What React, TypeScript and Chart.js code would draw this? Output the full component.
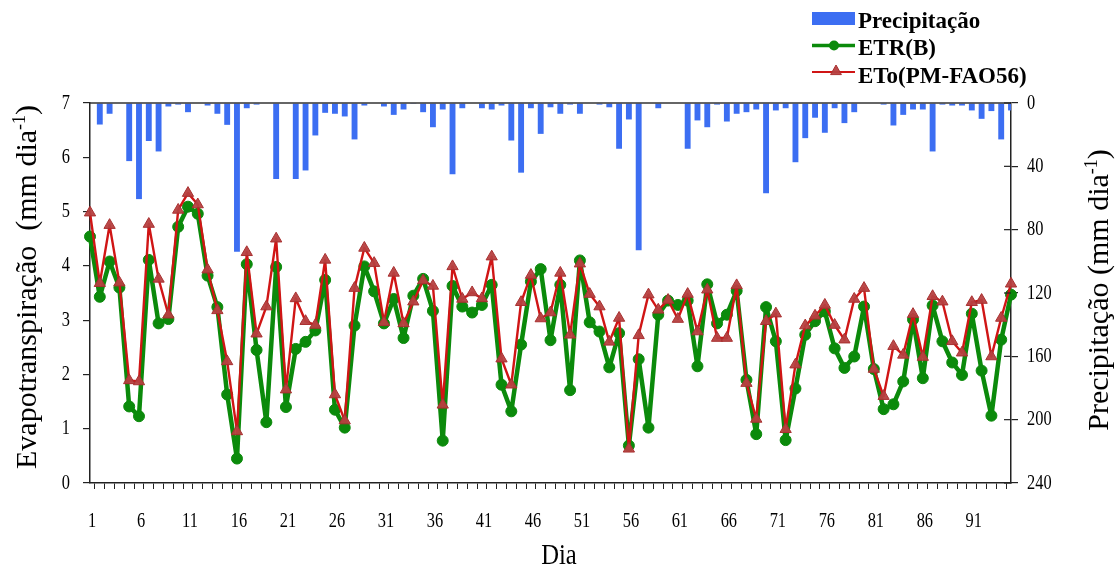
import React, { useEffect, useRef } from 'react';
import { Chart, registerables } from 'chart.js';

Chart.register(...registerables);

const days: string[] = Array.from({ length: 95 }, (_, i) => String(i + 1));
const xTickLabels = ['1', '6', '11', '16', '21', '26', '31', '36', '41', '46', '51', '56', '61', '66', '71', '76', '81', '86', '91'];
const leftTickLabels = ['0', '1', '2', '3', '4', '5', '6', '7'];
const rightTickLabels = ['0', '40', '80', '120', '160', '200', '240'];

const etr = [
  4.54, 3.43, 4.08, 3.60, 1.41, 1.23, 4.11, 2.94, 3.02, 4.72,
  5.09, 4.96, 3.82, 3.24, 1.63, 0.45, 4.03, 2.45, 1.12, 3.98,
  1.40, 2.47, 2.60, 2.81, 3.74, 1.35, 1.02, 2.90, 3.99, 3.53,
  2.94, 3.39, 2.67, 3.45, 3.76, 3.17, 0.78, 3.63, 3.25, 3.14,
  3.28, 3.65, 1.81, 1.32, 2.55, 3.71, 3.94, 2.63, 3.65, 1.71,
  4.10, 2.96, 2.79, 2.13, 2.76, 0.69, 2.28, 1.02, 3.10, 3.36,
  3.28, 3.36, 2.15, 3.66, 2.94, 3.10, 3.54, 1.90, 0.90, 3.24,
  2.61, 0.79, 1.74, 2.73, 2.98, 3.16, 2.48, 2.12, 2.33, 3.25,
  2.10, 1.36, 1.45, 1.87, 3.01, 1.93, 3.27, 2.61, 2.22, 1.99,
  3.12, 2.07, 1.24, 2.64, 3.47,
];

const eto = [
  4.98, 3.68, 4.75, 3.69, 1.89, 1.87, 4.77, 3.76, 3.10, 5.03,
  5.34, 5.13, 3.93, 3.18, 2.24, 0.95, 4.25, 2.75, 3.25, 4.50,
  1.72, 3.40, 2.98, 2.91, 4.11, 1.63, 1.15, 3.59, 4.33, 4.05,
  2.96, 3.87, 2.94, 3.34, 3.73, 3.63, 1.44, 3.99, 3.39, 3.51,
  3.40, 4.17, 2.29, 1.81, 3.33, 3.83, 3.03, 3.14, 3.87, 2.73,
  4.04, 3.48, 3.25, 2.60, 3.04, 0.63, 2.72, 3.47, 3.19, 3.37,
  3.02, 3.48, 2.79, 3.56, 2.67, 2.67, 3.64, 1.84, 1.18, 2.98,
  3.12, 0.99, 2.18, 2.90, 3.08, 3.28, 2.91, 2.64, 3.39, 3.59,
  2.10, 1.60, 2.52, 2.36, 3.11, 2.32, 3.44, 3.34, 2.61, 2.40,
  3.33, 3.37, 2.33, 3.04, 3.67,
];

const precip = [
  0, 13.6, 6.8, 0, 36.7, 60.7, 24, 30.6, 2.2, 1,
  5.8, 0, 1.6, 6.8, 13.8, 94, 3.3, 1, 0, 48,
  0, 48, 42.6, 20.5, 6.2, 6.8, 8.5, 23, 1.6, 0,
  2.2, 7.5, 4.1, 0.6, 5.8, 15.3, 4.1, 45, 3.3, 0,
  3.3, 4.1, 1.6, 23.7, 44, 3.3, 19.5, 2.7, 6.8, 1,
  6.8, 0, 1, 2.7, 28.9, 10.4, 93, 0, 3.3, 0,
  0, 28.9, 11, 15.3, 1, 11.7, 6.8, 5.8, 4.1, 57,
  4.7, 3.3, 37.4, 22.2, 9.3, 18.8, 3.3, 12.7, 5.8, 0,
  0, 1, 14.2, 7.5, 4.1, 4.1, 30.6, 1, 1.6, 1.6,
  4.7, 10, 5.1, 23, 4.7,
];

const SERIF = '"Liberation Serif", "Times New Roman", serif';
const GREEN = '#0b8a0b';
const RED = '#d01515';
const TRI_FILL = 'rgba(182,64,64,0.95)';
const TRI_BORDER = '#a83030';
const BLUE = '#3c6ef2';

function squeezedText(ctx: CanvasRenderingContext2D, text: string, x: number, y: number, size: number, align: CanvasTextAlign, sx: number) {
  ctx.save();
  ctx.translate(x, y);
  ctx.scale(sx, 1);
  ctx.font = `${size}px ${SERIF}`;
  ctx.textAlign = align;
  ctx.textBaseline = 'middle';
  ctx.fillStyle = '#000';
  ctx.fillText(text, 0, 0);
  ctx.restore();
}

function rotatedTitle(ctx: CanvasRenderingContext2D, main: string, cx: number, cy: number, size: number) {
  ctx.save();
  ctx.translate(cx, cy);
  ctx.rotate(-Math.PI / 2);
  ctx.fillStyle = '#000';
  ctx.textBaseline = 'alphabetic';
  ctx.textAlign = 'left';
  const supSize = Math.round(size * 0.6);
  ctx.font = `${size}px ${SERIF}`;
  const w1 = ctx.measureText(main).width;
  const w3 = ctx.measureText(')').width;
  ctx.font = `${supSize}px ${SERIF}`;
  const w2 = ctx.measureText('-1').width;
  const total = w1 + w2 + w3;
  let x = -total / 2;
  ctx.font = `${size}px ${SERIF}`;
  ctx.fillText(main, x, 0);
  x += w1;
  ctx.font = `${supSize}px ${SERIF}`;
  ctx.fillText('-1', x, -size * 0.38);
  x += w2;
  ctx.font = `${size}px ${SERIF}`;
  ctx.fillText(')', x, 0);
  ctx.restore();
}

function triangle(ctx: CanvasRenderingContext2D, x: number, y: number, r: number) {
  ctx.beginPath();
  ctx.moveTo(x, y - r);
  ctx.lineTo(x + r * 0.9, y + r * 0.6);
  ctx.lineTo(x - r * 0.9, y + r * 0.6);
  ctx.closePath();
  ctx.fillStyle = TRI_FILL;
  ctx.fill();
  ctx.strokeStyle = TRI_BORDER;
  ctx.lineWidth = 1;
  ctx.stroke();
}

const decorPlugin = {
  id: 'decor',
  afterDraw(chart: any) {
    const ctx: CanvasRenderingContext2D = chart.ctx;
    const { left, right, top } = chart.chartArea;
    const xs = chart.scales.x;
    const ys = chart.scales.y;
    const y2 = chart.scales.y2;
    ctx.save();
    ctx.strokeStyle = '#333';
    ctx.lineWidth = 1.5;
    ctx.beginPath();
    ctx.moveTo(left, top);
    ctx.lineTo(right, top);
    ctx.stroke();
    ctx.lineWidth = 1.2;
    ctx.strokeStyle = '#222';
    rightTickLabels.forEach((lbl) => {
      const py = y2.getPixelForValue(Number(lbl));
      ctx.beginPath();
      ctx.moveTo(right - 7, py);
      ctx.lineTo(right, py);
      ctx.stroke();
    });
    xTickLabels.forEach((lbl) => {
      const idx = days.indexOf(lbl);
      const px = xs.getPixelForValue(idx);
      squeezedText(ctx, lbl, px + 2, 521, 21, 'center', 0.78);
    });
    leftTickLabels.forEach((lbl) => {
      const py = ys.getPixelForValue(Number(lbl));
      squeezedText(ctx, lbl, 70, py, 21, 'right', 0.78);
    });
    rightTickLabels.forEach((lbl) => {
      const py = y2.getPixelForValue(Number(lbl));
      squeezedText(ctx, lbl, 1027, py, 21, 'left', 0.78);
    });
    squeezedText(ctx, 'Dia', 559, 556, 29, 'center', 0.85);
    rotatedTitle(ctx, 'Evapotranspiração  (mm dia', 36, 287, 30);
    rotatedTitle(ctx, 'Precipitação (mm dia', 1108, 290, 30);
    // legend
    ctx.fillStyle = BLUE;
    ctx.fillRect(812, 12, 43, 13);
    ctx.strokeStyle = GREEN;
    ctx.lineWidth = 3.5;
    ctx.beginPath();
    ctx.moveTo(812, 45.5);
    ctx.lineTo(855, 45.5);
    ctx.stroke();
    ctx.fillStyle = GREEN;
    ctx.beginPath();
    ctx.arc(834, 45.5, 5, 0, Math.PI * 2);
    ctx.fill();
    ctx.strokeStyle = RED;
    ctx.lineWidth = 2.2;
    ctx.beginPath();
    ctx.moveTo(812, 72);
    ctx.lineTo(855, 72);
    ctx.stroke();
    triangle(ctx, 836, 71, 6);
    ctx.fillStyle = '#000';
    ctx.font = `bold 23px ${SERIF}`;
    ctx.textAlign = 'left';
    ctx.textBaseline = 'alphabetic';
    ctx.fillText('Precipitação', 858, 28);
    ctx.fillText('ETR(B)', 858, 55);
    ctx.fillText('ETo(PM-FAO56)', 858, 83);
    ctx.restore();
  },
};

export default function App() {
  const ref = useRef<HTMLCanvasElement>(null);
  useEffect(() => {
    const canvas = ref.current;
    if (!canvas) return;
    const chart = new Chart(canvas, {
      type: 'bar',
      data: {
        labels: days,
        datasets: [
          {
            type: 'line',
            label: 'ETo(PM-FAO56)',
            data: eto,
            yAxisID: 'y',
            borderColor: RED,
            borderWidth: 2.4,
            borderJoinStyle: 'round',
            pointStyle: 'triangle',
            pointRadius: 6.5,
            pointBackgroundColor: TRI_FILL,
            pointBorderColor: TRI_BORDER,
            pointBorderWidth: 1,
            tension: 0,
            order: 1,
            clip: false,
          } as any,
          {
            type: 'line',
            label: 'ETR(B)',
            data: etr,
            yAxisID: 'y',
            borderColor: GREEN,
            borderWidth: 4.5,
            borderJoinStyle: 'round',
            pointStyle: 'circle',
            pointRadius: 5.5,
            pointBackgroundColor: GREEN,
            pointBorderColor: GREEN,
            pointBorderWidth: 1,
            tension: 0,
            order: 2,
            clip: false,
          } as any,
          {
            type: 'bar',
            label: 'Precipitação',
            data: precip,
            yAxisID: 'y2',
            backgroundColor: BLUE,
            barPercentage: 0.6,
            categoryPercentage: 1,
            order: 3,
          } as any,
        ],
      },
      options: {
        responsive: false,
        animation: false,
        layout: { padding: { top: 103, left: 0, right: 0, bottom: 0 } },
        plugins: { legend: { display: false }, tooltip: { enabled: false } },
        scales: {
          x: {
            type: 'category',
            offset: false,
            grid: { display: true, drawOnChartArea: false, drawTicks: true, tickLength: 6, color: '#222', lineWidth: 1 },
            border: { display: true, color: '#222', width: 1.5 },
            ticks: { display: false, autoSkip: false },
            afterFit: (s: any) => { s.height = 94; },
          },
          y: {
            position: 'left',
            min: 0,
            max: 7,
            ticks: { display: false, stepSize: 1 },
            grid: { display: true, drawOnChartArea: false, tickLength: 7, color: '#222', lineWidth: 1.2 },
            border: { display: true, color: '#222', width: 1.5 },
            afterFit: (s: any) => { s.width = 90; },
          },
          y2: {
            position: 'right',
            min: 0,
            max: 240,
            reverse: true,
            ticks: { display: false, stepSize: 40 },
            grid: { display: true, drawOnChartArea: false, tickLength: 7, color: '#222', lineWidth: 1.2 },
            border: { display: true, color: '#222', width: 1.5 },
            afterFit: (s: any) => { s.width = 106; },
          },
        },
      } as any,
      plugins: [decorPlugin],
    });
    return () => chart.destroy();
  }, []);
  return (
    <div style={{ position: 'absolute', left: 0, top: 0, width: 1117, height: 577, background: '#fff' }}>
      <canvas ref={ref} width={1117} height={577} style={{ display: 'block' }} />
    </div>
  );
}
